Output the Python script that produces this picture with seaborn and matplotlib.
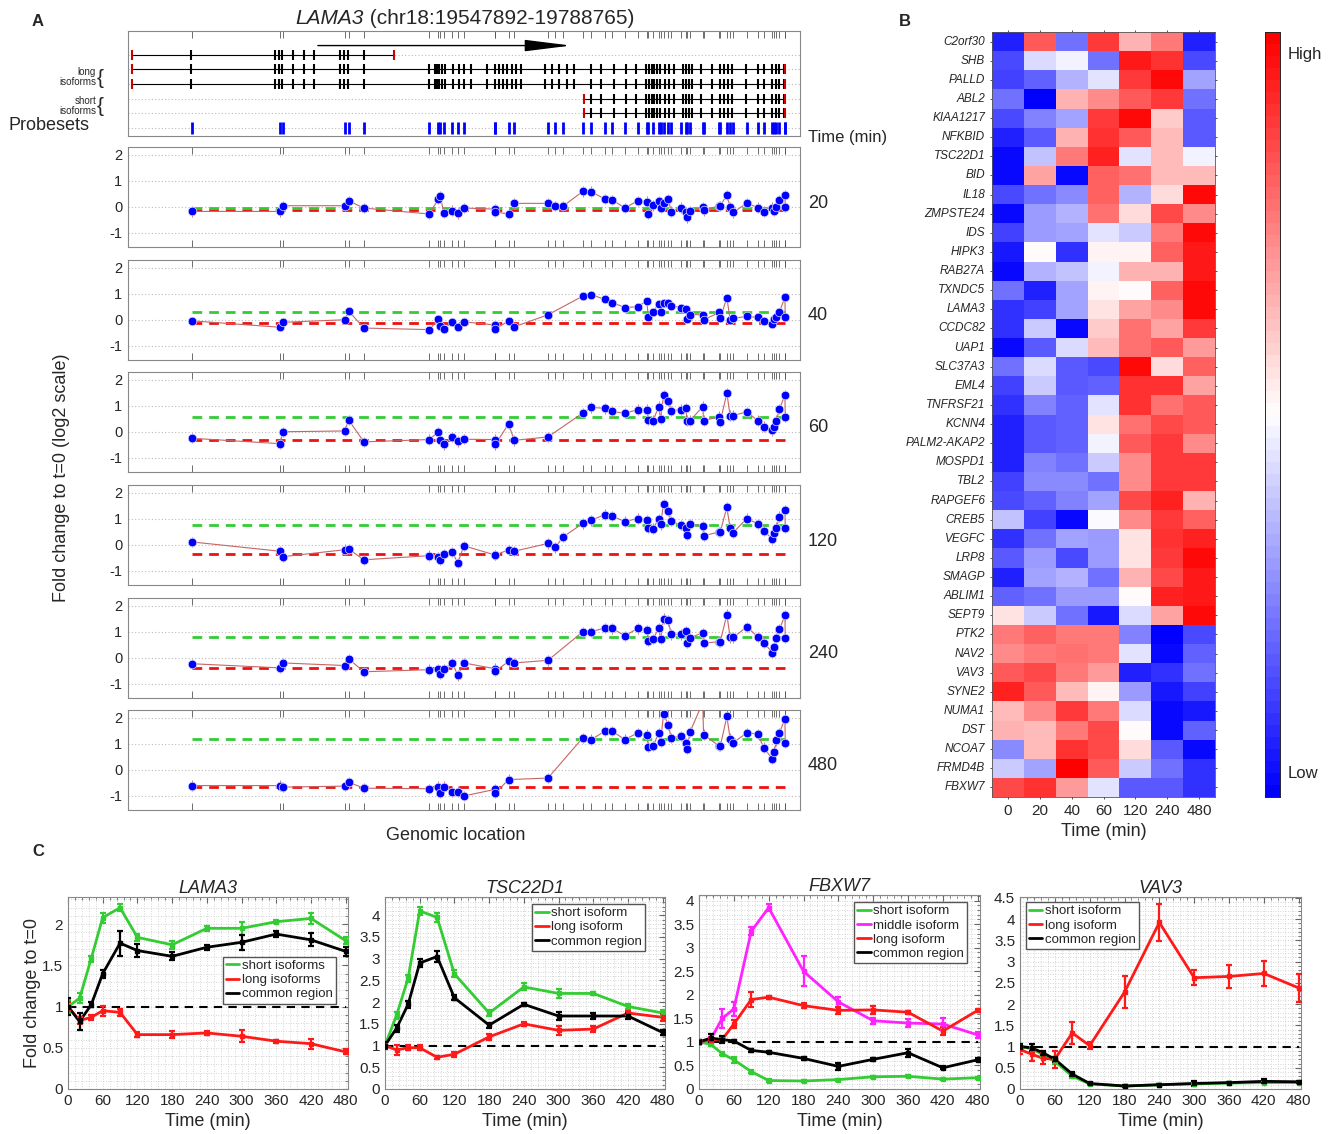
import numpy as np
import pandas as pd
import seaborn as sns
import matplotlib.pyplot as plt
from matplotlib.lines import Line2D
from matplotlib.ticker import AutoMinorLocator, MultipleLocator, FuncFormatter

sns.set_style("white")
plt.rcParams['font.family'] = ['Liberation Sans', 'DejaVu Sans']

nan = np.nan

# ---------------- panel A data (genomic position in kb from gene start) ----------------
probeset_kb = [22.5, 54.8, 55.8, 78.5, 79.8, 85.4, 109.3, 112.6, 113.3, 114.6, 117.7, 119.7, 121.9,
               133.1, 133.4, 138.2, 140.3, 152.6, 155.3, 158.1, 165.3, 168.4, 173.3, 176.1, 180.7,
               185.3, 188.7, 189.2, 191.0, 193.0, 193.7, 194.8, 196.5, 197.6, 201.1, 203.0, 203.3,
               204.5, 209.1, 209.4, 215.2, 215.5, 217.9, 219.1, 220.2, 225.2, 229.1, 231.4, 234.5,
               235.2, 236.0, 237.1, 239.1, 239.2]

exon_kb = [22.3, 53.1, 54.4, 55.6, 59.4, 63.6, 67.2, 76.6, 78.3, 79.7, 85.6, 109.3, 111.4, 112.2,
           113.0, 113.9, 114.9, 118.1, 120.2, 121.8, 124.4, 130.2, 133.2, 134.8, 136.1, 137.8,
           139.5, 141.1, 142.8, 151.6, 154.1, 156.8, 159.6, 162.1, 168.4, 172.1, 176.7, 181.0,
           184.7, 188.3, 189.3, 190.4, 191.4, 192.5, 193.5, 195.2, 196.7, 198.7, 201.9, 202.9,
           204.0, 205.0, 208.6, 212.4, 215.5, 217.0, 218.2, 219.7, 224.9, 229.1, 231.6, 234.4,
           235.8, 237.1, 238.6]
gene_start, gene_end = 0.74, 239.2
first_transcript_end = 96.5
short_start = 165.9

time_panels = [20, 40, 60, 120, 240, 480]
fc20 = [-0.18, -0.18, 0.04, 0.04, 0.23, -0.05, -0.28, 0.30, 0.40, -0.25, -0.15, -0.26, -0.05, -0.09,
        -0.20, -0.28, 0.13, 0.13, 0.04, 0.02, 0.59, 0.58, 0.30, 0.26, -0.05, 0.23, 0.20, -0.28, 0.05,
        0.23, -0.03, 0.14, 0.30, -0.19, -0.03, -0.22, -0.41, -0.18, 0.00, -0.14, 0.04, 0.04, 0.45,
        0.00, -0.22, 0.14, -0.03, -0.19, -0.03, -0.15, 0.00, 0.26, 0.45, 0.00]
fc40 = [-0.04, -0.29, -0.10, 0.00, 0.34, -0.32, -0.38, 0.03, -0.23, -0.35, -0.10, -0.27, -0.08, -0.20,
        -0.35, -0.05, -0.27, 0.19, nan, nan, 0.91, 0.97, 0.78, 0.66, 0.47, 0.50, 0.72, 0.11, 0.30,
        0.62, 0.30, 0.63, 0.66, 0.53, 0.47, 0.40, 0.03, 0.20, 0.19, 0.00, 0.28, 0.05, 0.85, 0.00,
        0.05, 0.13, 0.09, -0.04, -0.16, 0.03, 0.09, 0.30, 0.87, 0.09]
fc60 = [-0.25, -0.46, 0.00, 0.03, 0.46, -0.39, -0.30, 0.00, -0.33, -0.49, -0.20, -0.37, -0.29, -0.30,
        -0.49, 0.30, -0.33, -0.20, nan, nan, 0.72, 0.94, 0.90, 0.78, 0.71, 0.85, 0.85, 0.46, 0.43,
        0.97, 0.49, 1.40, 1.19, 0.81, 0.85, 0.90, 0.43, 0.43, 0.97, 0.43, 0.58, 0.39, 1.48, 0.62,
        0.62, 0.77, 0.43, 0.20, 0.05, 0.20, 0.43, 0.87, 1.42, 0.58]
fc120 = [0.11, -0.25, -0.46, -0.19, -0.16, -0.58, -0.42, -0.48, -0.58, -0.35, -0.29, -0.70, -0.04,
         -0.39, -0.39, -0.20, -0.25, 0.05, -0.10, 0.30, 0.82, 0.94, 1.16, 1.10, 0.89, 1.01, 0.95,
         0.66, 0.62, 1.00, 0.78, 1.58, 1.29, 0.91, 0.76, 0.66, 0.37, 0.81, 0.72, 0.34, 0.50, 0.50,
         1.44, 0.63, 0.47, 1.01, 0.81, 0.53, 0.22, 0.44, 0.66, 1.08, 1.33, 0.66]
fc240 = [-0.23, -0.39, -0.20, -0.30, -0.04, -0.54, -0.46, -0.43, -0.61, -0.43, -0.20, -0.68, -0.20,
         -0.42, -0.52, -0.14, -0.20, -0.10, nan, nan, 1.00, 1.00, 1.15, 1.13, 0.84, 1.13, 1.06, 0.66,
         0.71, 1.15, 0.72, 1.51, 1.44, 0.90, 0.90, 1.03, 0.56, 0.77, 0.96, 0.56, 0.62, 0.62, 1.66,
         0.78, 0.78, 1.19, 0.81, 0.58, 0.20, 0.41, 0.77, 1.10, 1.63, 0.75]
fc480 = [-0.61, -0.61, -0.67, -0.63, -0.48, -0.71, -0.73, -0.65, -0.90, -0.65, -0.84, -0.84, -1.01,
         -0.76, -0.90, -0.38, nan, -0.32, nan, nan, 1.23, 1.16, 1.48, 1.48, 1.16, 1.42, 1.35, 0.89,
         0.91, 1.42, 1.06, 2.15, 1.73, 1.23, 1.29, 1.04, 0.81, 1.46, 2.60, 1.35, 0.91, 0.91, 2.05,
         1.20, 1.04, 1.42, 1.38, 0.85, 0.41, 0.70, 1.13, 1.42, 1.96, 1.04]
fc_err = [0.2, 0.15, 0.2, 0.2, 0.2, 0.2]
short_mean = [-0.03, 0.28, 0.58, 0.75, 0.81, 1.20]
long_mean = [-0.12, -0.13, -0.30, -0.35, -0.39, -0.67]

# ---------------- panel B data ----------------
heat_genes = ['C2orf30', 'SHB', 'PALLD', 'ABL2', 'KIAA1217', 'NFKBID', 'TSC22D1', 'BID', 'IL18',
              'ZMPSTE24', 'IDS', 'HIPK3', 'RAB27A', 'TXNDC5', 'LAMA3', 'CCDC82', 'UAP1', 'SLC37A3',
              'EML4', 'TNFRSF21', 'KCNN4', 'PALM2-AKAP2', 'MOSPD1', 'TBL2', 'RAPGEF6', 'CREB5',
              'VEGFC', 'LRP8', 'SMAGP', 'ABLIM1', 'SEPT9', 'PTK2', 'NAV2', 'VAV3', 'SYNE2', 'NUMA1',
              'DST', 'NCOA7', 'FRMD4B', 'FBXW7']
heat_times = ['0', '20', '40', '60', '120', '240', '480']
heat_values = [
    [-0.85, 0.65, -0.55, 0.75, 0.30, 0.50, -0.85],
    [-0.70, -0.15, -0.05, -0.55, 0.90, 0.80, -0.70],
    [-0.75, -0.60, -0.30, -0.10, 0.75, 0.95, -0.35],
    [-0.55, -1.00, 0.30, 0.45, 0.65, 0.75, -0.55],
    [-0.70, -0.50, -0.35, 0.75, 0.95, 0.20, -0.65],
    [-0.85, -0.65, 0.30, 0.80, 0.65, 0.25, -0.65],
    [-0.95, -0.25, 0.50, 0.85, -0.10, 0.25, -0.05],
    [-0.95, 0.35, -0.95, 0.60, 0.55, 0.25, 0.25],
    [-0.70, -0.55, -0.45, 0.60, -0.30, 0.15, 0.95],
    [-0.95, -0.40, -0.30, 0.55, 0.15, 0.70, 0.45],
    [-0.75, -0.40, -0.35, -0.10, -0.20, 0.50, 0.95],
    [-0.90, 0.03, -0.80, 0.05, 0.05, 0.60, 0.90],
    [-0.95, -0.30, -0.25, -0.05, 0.30, 0.30, 0.90],
    [-0.55, -0.85, -0.35, 0.05, 0.00, 0.60, 0.95],
    [-0.80, -0.75, -0.35, 0.10, 0.35, 0.45, 0.95],
    [-0.80, -0.20, -0.95, 0.20, 0.55, 0.35, 0.75],
    [-0.95, -0.65, -0.15, 0.25, 0.55, 0.65, 0.40],
    [-0.55, -0.15, -0.65, -0.70, 0.95, 0.15, 0.60],
    [-0.75, -0.20, -0.65, -0.60, 0.80, 0.80, 0.35],
    [-0.80, -0.50, -0.60, -0.10, 0.80, 0.55, 0.65],
    [-0.85, -0.65, -0.60, 0.10, 0.55, 0.70, 0.65],
    [-0.85, -0.65, -0.60, -0.05, 0.65, 0.75, 0.45],
    [-0.85, -0.50, -0.55, -0.20, 0.45, 0.75, 0.75],
    [-0.75, -0.45, -0.45, -0.55, 0.45, 0.75, 0.75],
    [-0.70, -0.60, -0.50, -0.35, 0.70, 0.85, 0.30],
    [-0.25, -0.75, -0.95, -0.03, 0.45, 0.75, 0.60],
    [-0.80, -0.55, -0.35, -0.40, 0.10, 0.80, 0.85],
    [-0.65, -0.40, -0.70, -0.40, 0.10, 0.75, 0.95],
    [-0.85, -0.35, -0.30, -0.55, 0.30, 0.70, 0.90],
    [-0.60, -0.55, -0.40, -0.40, 0.00, 0.85, 0.90],
    [0.10, -0.20, -0.55, -0.90, -0.15, 0.35, 0.95],
    [0.50, 0.60, 0.50, 0.50, -0.50, -1.00, -0.70],
    [0.45, 0.50, 0.55, 0.50, -0.10, -0.95, -0.60],
    [0.65, 0.70, 0.50, 0.40, -0.85, -0.80, -0.55],
    [0.85, 0.65, 0.25, 0.05, -0.40, -0.90, -0.75],
    [0.25, 0.45, 0.75, 0.50, -0.15, -0.95, -0.90],
    [0.30, 0.25, 0.50, 0.70, 0.00, -0.95, -0.60],
    [-0.45, 0.25, 0.80, 0.70, 0.15, -0.65, -0.95],
    [-0.20, -0.35, 0.98, 0.65, -0.20, -0.55, -0.80],
    [0.70, 0.80, 0.40, -0.10, -0.65, -0.65, -0.80],
]

# ---------------- panel C data ----------------
tc = [0, 20, 40, 60, 90, 120, 180, 240, 300, 360, 420, 480]
lama3_short = [1.00, 1.10, 1.58, 2.08, 2.20, 1.84, 1.75, 1.95, 1.95, 2.03, 2.07, 1.80]
lama3_short_err = [0.08, 0.06, 0.04, 0.06, 0.04, 0.04, 0.05, 0.03, 0.08, 0.02, 0.07, 0.04]
lama3_long = [1.00, 0.83, 0.87, 0.95, 0.93, 0.66, 0.66, 0.68, 0.64, 0.58, 0.55, 0.45]
lama3_long_err = [0.05, 0.04, 0.03, 0.06, 0.04, 0.03, 0.04, 0.02, 0.07, 0.02, 0.06, 0.03]
lama3_common = [1.00, 0.82, 1.02, 1.40, 1.77, 1.68, 1.61, 1.72, 1.78, 1.88, 1.81, 1.67]
lama3_common_err = [0.10, 0.10, 0.03, 0.05, 0.15, 0.08, 0.05, 0.03, 0.09, 0.04, 0.08, 0.05]

tsc_short = [1.00, 1.70, 2.55, 4.10, 3.95, 2.65, 1.75, 2.35, 2.20, 2.20, 1.90, 1.75]
tsc_short_err = [0.05, 0.08, 0.08, 0.10, 0.10, 0.08, 0.06, 0.08, 0.10, 0.03, 0.06, 0.08]
tsc_long = [1.00, 0.90, 0.95, 0.95, 0.73, 0.80, 1.20, 1.50, 1.35, 1.38, 1.75, 1.65]
tsc_long_err = [0.05, 0.12, 0.06, 0.06, 0.04, 0.06, 0.07, 0.04, 0.10, 0.06, 0.05, 0.08]
tsc_common = [1.00, 1.40, 1.95, 2.90, 3.05, 2.10, 1.47, 1.95, 1.68, 1.68, 1.68, 1.30]
tsc_common_err = [0.08, 0.08, 0.08, 0.10, 0.12, 0.06, 0.06, 0.03, 0.10, 0.06, 0.06, 0.06]

fbx_short = [1.00, 0.95, 0.75, 0.62, 0.37, 0.18, 0.17, 0.20, 0.26, 0.27, 0.21, 0.24]
fbx_short_err = [0.04, 0.03, 0.03, 0.06, 0.03, 0.03, 0.02, 0.02, 0.02, 0.02, 0.02, 0.02]
fbx_middle = [1.00, 1.05, 1.50, 1.70, 3.35, 3.85, 2.50, 1.85, 1.45, 1.40, 1.38, 1.15]
fbx_middle_err = [0.05, 0.05, 0.20, 0.15, 0.08, 0.08, 0.32, 0.10, 0.06, 0.08, 0.12, 0.06]
fbx_long = [1.00, 1.05, 1.05, 1.38, 1.90, 1.95, 1.77, 1.67, 1.68, 1.63, 1.23, 1.67]
fbx_long_err = [0.05, 0.03, 0.06, 0.08, 0.15, 0.03, 0.06, 0.08, 0.08, 0.03, 0.08, 0.03]
fbx_common = [1.00, 1.08, 1.05, 1.02, 0.82, 0.78, 0.65, 0.48, 0.63, 0.77, 0.45, 0.62]
fbx_common_err = [0.05, 0.08, 0.07, 0.03, 0.03, 0.02, 0.03, 0.07, 0.03, 0.08, 0.03, 0.03]

vav_short = [1.00, 0.95, 0.80, 0.65, 0.30, 0.12, 0.07, 0.10, 0.12, 0.14, 0.15, 0.15]
vav_short_err = [0.05, 0.05, 0.04, 0.05, 0.03, 0.02, 0.01, 0.01, 0.02, 0.02, 0.02, 0.02]
vav_long = [0.93, 0.82, 0.72, 0.70, 1.32, 1.02, 2.28, 3.92, 2.62, 2.65, 2.72, 2.38]
vav_long_err = [0.10, 0.15, 0.12, 0.20, 0.25, 0.08, 0.38, 0.43, 0.18, 0.28, 0.30, 0.33]
vav_common = [1.00, 0.97, 0.85, 0.70, 0.35, 0.13, 0.07, 0.10, 0.13, 0.15, 0.18, 0.17]
vav_common_err = [0.07, 0.08, 0.05, 0.06, 0.04, 0.02, 0.02, 0.01, 0.06, 0.02, 0.05, 0.03]

GREEN, RED, MAG = '#33cc33', '#ff1a1a', '#ff22ff'

W, H = 1332, 1134
fig = plt.figure(figsize=(W / 100, H / 100), dpi=100)
renderer = fig.canvas.get_renderer()


def ax_px(x0, y0, x1, y1):
    return fig.add_axes([x0 / W, 1 - y1 / H, (x1 - x0) / W, (y1 - y0) / H])


XL = (-0.7, 244.6)

# ---------------- panel A: gene structure ----------------
gax = ax_px(128, 31, 800, 136)
gax.set_xlim(*XL)
gax.set_ylim(6.57, -0.64)
for r in range(1, 7):
    gax.axhline(r, color='#bbbbbb', ls=(0, (1, 2)), lw=0.8, zorder=0)
exons = np.array(exon_kb)
# first (N-terminal) transcript
gax.plot([gene_start, first_transcript_end], [1, 1], color='black', lw=0.8)
e1 = exons[exons < first_transcript_end]
gax.plot(e1, np.full(len(e1), 1), ls='none', marker='|', ms=7, mew=1.5, color='black')
# long isoforms
for r in (2, 3):
    gax.plot([gene_start, gene_end], [r, r], color='black', lw=0.8)
    gax.plot(exons, np.full(len(exons), r), ls='none', marker='|', ms=7, mew=1.5, color='black')
    gax.plot([gene_start, gene_end], [r, r], ls='none', marker='|', ms=7, mew=1.5, color='#cc0000')
# short isoforms
e2 = exons[exons > short_start]
for r in (4, 5):
    gax.plot([short_start, gene_end], [r, r], color='black', lw=0.8)
    gax.plot(e2, np.full(len(e2), r), ls='none', marker='|', ms=7, mew=1.5, color='black')
    gax.plot([short_start, gene_end], [r, r], ls='none', marker='|', ms=7, mew=1.5, color='#cc0000')
gax.plot([gene_start, first_transcript_end], [1, 1], ls='none', marker='|', ms=7, mew=1.5, color='#cc0000')
# probesets
gax.plot(probeset_kb, np.full(len(probeset_kb), 6), ls='none', marker='|', ms=8, mew=2, color='#0000ff')
gax.annotate('', xy=(161, 0.36), xytext=(68.6, 0.36),
             arrowprops=dict(arrowstyle='-|>,head_length=2.4,head_width=0.3', color='black',
                             lw=1, mutation_scale=12, shrinkA=0, shrinkB=0))
gax.set_yticks([])
gax.set_xticks(probeset_kb)
gax.tick_params(axis='x', direction='in', top=True, bottom=False, labelbottom=False,
                length=5, width=0.6, color='#555555')
for s in gax.spines.values():
    s.set_color('#888888')

# title: italic gene name followed by plain coordinates, centred as a whole
t_gene = fig.text(0, 1 - 18 / H, 'LAMA3', fontsize=15, style='italic', ha='left', va='center')
t_loc = fig.text(0, 1 - 18 / H, ' (chr18:19547892-19788765)', fontsize=15, ha='left', va='center')
w1 = t_gene.get_window_extent(renderer).width
w2 = t_loc.get_window_extent(renderer).width
x_start = 465 - (w1 + w2) / 2
t_gene.set_x(x_start / W)
t_loc.set_x((x_start + w1) / W)

fig.text(38 / W, 1 - 22 / H, 'A', fontsize=12, weight='bold', ha='center', va='center')
fig.text(8 / W, 1 - 126 / H, 'Probesets', fontsize=13, ha='left', va='center')
fig.text(96 / W, 1 - 77 / H, 'long\nisoforms', fontsize=7, ha='right', va='center', linespacing=1.1)
fig.text(96 / W, 1 - 106 / H, 'short\nisoforms', fontsize=7, ha='right', va='center', linespacing=1.1)
fig.text(97 / W, 1 - 78 / H, '{', fontsize=15, ha='left', va='center', weight='light')
fig.text(97 / W, 1 - 107 / H, '{', fontsize=15, ha='left', va='center', weight='light')
fig.text(808 / W, 1 - 138 / H, 'Time (min)', fontsize=12, ha='left', va='center')

# ---------------- panel A: fold change panels ----------------
fc_all = [fc20, fc40, fc60, fc120, fc240, fc480]
tops = [147, 260, 372, 485, 598, 710]
pos = np.array(probeset_kb)
for i, (t, vals) in enumerate(zip(time_panels, fc_all)):
    ax = ax_px(128, tops[i], 800, tops[i] + 100)
    v = np.array(vals, dtype=float)
    m = ~np.isnan(v)
    ax.hlines(long_mean[i], pos[0], pos[-1], colors='#ee1111', linestyles=(0, (3.5, 2.5)), lw=2, zorder=2)
    ax.hlines(short_mean[i], pos[0], pos[-1], colors=GREEN, linestyles=(0, (3.5, 2.5)), lw=2, zorder=2)
    ax.plot(pos[m], v[m], color='#c86464', lw=0.8, zorder=3)
    ax.errorbar(pos[m], v[m], yerr=fc_err[i], fmt='none', ecolor='#d07070', elinewidth=0.7, zorder=3)
    df = pd.DataFrame({'pos': pos[m], 'fc': v[m]})
    sns.scatterplot(data=df, x='pos', y='fc', ax=ax, color='#0000ff', s=38, edgecolor='#dde0ff',
                    linewidth=0.5, zorder=4, legend=False)
    ax.set_xlim(*XL)
    ax.set_ylim(-1.55, 2.3)
    ax.set_yticks([-1, 0, 1, 2])
    ax.set_yticklabels(['-1', '0', '1', '2'], fontsize=10.5)
    ax.set_xticks(probeset_kb)
    ax.set_xticklabels([])
    ax.set_xlabel('')
    ax.set_ylabel('')
    ax.tick_params(axis='x', direction='in', top=True, bottom=True, length=5, width=0.6, color='#555555')
    ax.tick_params(axis='y', length=0, pad=4)
    for yv in [-1, 0, 1, 2]:
        ax.axhline(yv, color='#bbbbbb', ls=(0, (1, 2)), lw=0.8, zorder=0)
    for s in ax.spines.values():
        s.set_color('#888888')
    fig.text(808 / W, 1 - (tops[i] + 56) / H, str(t), fontsize=13, ha='left', va='center')

fig.text(62 / W, 1 - 478 / H, 'Fold change to t=0 (log2 scale)', fontsize=13, rotation=90,
         ha='center', va='center')
fig.text(456 / W, 1 - 835 / H, 'Genomic location', fontsize=13, ha='center', va='center')

# ---------------- panel B: heatmap ----------------
hax = ax_px(992, 32, 1215, 797)
cax = ax_px(1265, 32, 1280, 797)
heat_df = pd.DataFrame(heat_values, index=heat_genes, columns=heat_times)
sns.heatmap(heat_df, ax=hax, cmap=plt.get_cmap('bwr', 64), vmin=-1, vmax=1, cbar_ax=cax,
            cbar_kws={'ticks': []})
hax.set_yticks(np.arange(len(heat_genes)) + 0.5)
hax.set_yticklabels(heat_genes, fontsize=8.5, style='italic', rotation=0)
hax.set_xticklabels(heat_times, fontsize=11, rotation=0)
hax.set_xlabel('Time (min)', fontsize=13)
hax.tick_params(axis='both', length=3, width=0.6, color='#333333', left=True, bottom=True,
                right=True, top=True, direction='inout')
for s in hax.spines.values():
    s.set_visible(True)
    s.set_color('#555555')
    s.set_linewidth(0.6)
cax.tick_params(length=0)
for s in cax.spines.values():
    s.set_visible(True)
    s.set_linewidth(0.6)
fig.text(1288 / W, 1 - 55 / H, 'High', fontsize=12, ha='left', va='center')
fig.text(1288 / W, 1 - 773 / H, 'Low', fontsize=12, ha='left', va='center')
fig.text(905 / W, 1 - 22 / H, 'B', fontsize=12, weight='bold', ha='center', va='center')

# ---------------- panel C: isoform time courses ----------------
c_panels = [
    ('LAMA3', (68, 897, 348, 1089), 2.33,
     [('short isoforms', lama3_short, lama3_short_err, GREEN),
      ('long isoforms', lama3_long, lama3_long_err, RED),
      ('common region', lama3_common, lama3_common_err, 'black')],
     ('upper left', (0.553, 0.69))),
    ('TSC22D1', (385, 897, 665, 1089), 4.42,
     [('short isoform', tsc_short, tsc_short_err, GREEN),
      ('long isoform', tsc_long, tsc_long_err, RED),
      ('common region', tsc_common, tsc_common_err, 'black')],
     ('upper right', (0.93, 0.965))),
    ('FBXW7', (699, 895, 980, 1089), 4.12,
     [('short isoform', fbx_short, fbx_short_err, GREEN),
      ('middle isoform', fbx_middle, fbx_middle_err, MAG),
      ('long isoform', fbx_long, fbx_long_err, RED),
      ('common region', fbx_common, fbx_common_err, 'black')],
     ('upper right', (0.955, 0.965))),
    ('VAV3', (1020, 897, 1301, 1089), 4.52,
     [('short isoform', vav_short, vav_short_err, GREEN),
      ('long isoform', vav_long, vav_long_err, RED),
      ('common region', vav_common, vav_common_err, 'black')],
     ('upper left', (0.02, 0.975))),
]

for j, (gene, box, ytop, series, (lloc, lanchor)) in enumerate(c_panels):
    ax = ax_px(*box)
    ax.hlines(1, 0, 480, colors='black', linestyles=(0, (4, 3)), lw=1.5, zorder=2)
    handles = []
    for label, vals, err, col in series:
        sdf = pd.DataFrame({'t': tc, 'fc': vals})
        sns.lineplot(data=sdf, x='t', y='fc', ax=ax, color=col, lw=2, zorder=3)
        ax.errorbar(tc, vals, yerr=err, fmt='s', ms=3.5, color=col, ecolor=col, elinewidth=1.6,
                    capsize=2.5, capthick=1.6, zorder=4)
        handles.append(Line2D([], [], color=col, lw=2, label=label))
    ax.set_xlim(0, 484)
    ax.set_ylim(0, ytop)
    ax.set_xticks([0, 60, 120, 180, 240, 300, 360, 420, 480])
    ax.yaxis.set_major_locator(MultipleLocator(0.5))
    ax.yaxis.set_major_formatter(FuncFormatter(lambda v, p: '%g' % v))
    ax.xaxis.set_minor_locator(AutoMinorLocator(5))
    ax.yaxis.set_minor_locator(AutoMinorLocator(5))
    ax.grid(which='both', color='#c8c8c8', ls=(0, (1, 2)), lw=0.6)
    ax.tick_params(which='both', direction='in', top=True, right=True, labelsize=11, color='#666666')
    ax.tick_params(which='major', length=4)
    ax.tick_params(which='minor', length=2)
    ax.set_xlabel('Time (min)', fontsize=13)
    ax.set_ylabel('Fold change to t=0' if j == 0 else '', fontsize=13, labelpad=1)
    ax.set_title(gene, fontsize=13, style='italic', pad=3)
    for s in ax.spines.values():
        s.set_color('#888888')
    ax.legend(handles=handles, loc=lloc, bbox_to_anchor=lanchor, fontsize=9.5, handlelength=1.0,
              handletextpad=0.2, borderpad=0.25, labelspacing=0.15, fancybox=False,
              edgecolor='#555555', framealpha=1, borderaxespad=0)

fig.text(38 / W, 1 - 852 / H, 'C', fontsize=12, weight='bold', ha='center', va='center')

fig.savefig('out.png', dpi=100)
